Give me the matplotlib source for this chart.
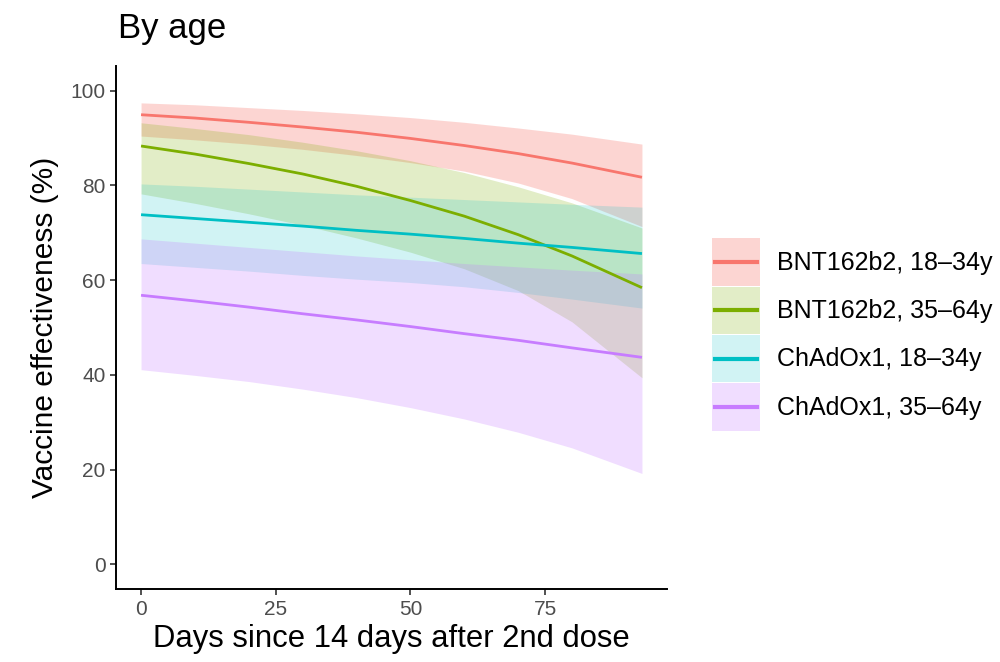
import matplotlib
matplotlib.use('Agg')
import matplotlib.pyplot as plt
from matplotlib.patches import Rectangle
from matplotlib.lines import Line2D

plt.rcParams['font.family'] = ['Liberation Sans', 'DejaVu Sans']

days = [0, 10, 20, 30, 40, 50, 60, 70, 80, 93]

bnt_1834 = [94.9, 94.2, 93.3, 92.3, 91.2, 89.9, 88.4, 86.7, 84.7, 81.7]
bnt_1834_hi = [97.4, 97.0, 96.4, 95.8, 95.1, 94.3, 93.3, 92.1, 90.8, 88.7]
bnt_1834_lo = [90.4, 89.6, 88.7, 87.6, 86.3, 84.8, 83.0, 80.5, 77.2, 71.3]

bnt_3564 = [88.3, 86.6, 84.6, 82.4, 79.8, 76.8, 73.5, 69.6, 65.1, 58.4]
bnt_3564_hi = [93.2, 92.0, 90.7, 89.1, 87.3, 85.2, 82.7, 79.7, 76.3, 71.0]
bnt_3564_lo = [78.2, 76.2, 74.0, 71.6, 68.9, 65.9, 62.4, 57.8, 51.2, 39.4]

chad_1834 = [73.8, 73.0, 72.2, 71.4, 70.5, 69.7, 68.8, 67.8, 66.9, 65.6]
chad_1834_hi = [80.3, 79.8, 79.2, 78.6, 78.0, 77.5, 77.0, 76.5, 76.0, 75.4]
chad_1834_lo = [63.5, 62.7, 61.9, 61.0, 60.2, 59.5, 58.6, 57.4, 56.0, 54.1]

chad_3564 = [56.8, 55.6, 54.3, 52.9, 51.6, 50.2, 48.7, 47.3, 45.7, 43.7]
chad_3564_hi = [68.7, 67.8, 66.9, 66.0, 65.1, 64.3, 63.5, 62.8, 62.1, 61.3]
chad_3564_lo = [41.1, 39.9, 38.6, 37.0, 35.2, 33.1, 30.7, 27.9, 24.6, 19.2]

labels = ['BNT162b2, 18\u201334y', 'BNT162b2, 35\u201364y',
          'ChAdOx1, 18\u201334y', 'ChAdOx1, 35\u201364y']
colors = ['#F8766D', '#7CAE00', '#00BFC4', '#C77CFF']
fill_alpha = [0.3, 0.22, 0.18, 0.26]
xticks = [0, 25, 50, 75]
yticks = [0, 20, 40, 60, 80, 100]

series = [
    (bnt_1834, bnt_1834_lo, bnt_1834_hi),
    (bnt_3564, bnt_3564_lo, bnt_3564_hi),
    (chad_1834, chad_1834_lo, chad_1834_hi),
    (chad_3564, chad_3564_lo, chad_3564_hi),
]


class LegendKey:
    def __init__(self, color, alpha):
        self.color = color
        self.alpha = alpha


class KeyHandler:
    # ggplot style key: filled box with the line across its middle
    def legend_artist(self, legend, orig_handle, fontsize, handlebox):
        x0, y0 = handlebox.xdescent, handlebox.ydescent
        w, h = handlebox.width, handlebox.height
        tr = handlebox.get_transform()
        rect = Rectangle([-x0, -y0], w, h, facecolor=orig_handle.color,
                         alpha=orig_handle.alpha, edgecolor='none', transform=tr)
        line = Line2D([-x0 + 0.06 * w, -x0 + 0.94 * w], [-y0 + h / 2, -y0 + h / 2],
                      color=orig_handle.color, linewidth=3, transform=tr)
        handlebox.add_artist(rect)
        handlebox.add_artist(line)
        return rect


fig = plt.figure(figsize=(10, 6.62), dpi=100)
ax = fig.add_axes([0.116, 0.1098, 0.551, 0.791])

# ribbons first, then lines on top (ggplot order)
for (mid, lo, hi), c, a in zip(series, colors, fill_alpha):
    ax.fill_between(days, lo, hi, color=c, alpha=a, linewidth=0)
for (mid, lo, hi), c in zip(series, colors):
    ax.plot(days, mid, color=c, linewidth=2.0, solid_capstyle='butt')

ax.set_xlim(-4.65, 97.65)
ax.set_ylim(-5.25, 105.25)
ax.set_xticks(xticks)
ax.set_yticks(yticks)
ax.spines.right.set_visible(False)
ax.spines.top.set_visible(False)
ax.spines['left'].set_linewidth(1.4)
ax.spines['bottom'].set_linewidth(1.4)
ax.tick_params(axis='both', direction='out', length=4.5, width=1.2,
               color='#333333', labelcolor='#4D4D4D', labelsize=15, pad=3)

ax.set_xlabel('Days since 14 days after 2nd dose', fontsize=22.3, labelpad=4)
ax.set_ylabel('Vaccine effectiveness (%)', fontsize=21.5, labelpad=8)
fig.text(0.118, 1 - 38 / 662, 'By age', fontsize=25, va='baseline', ha='left')

handles = [LegendKey(c, a) for c, a in zip(colors, fill_alpha)]
fig.legend(handles, labels, handler_map={LegendKey: KeyHandler()},
           loc='center left', bbox_to_anchor=(0.712, 1 - 334.5 / 662),
           frameon=False, fontsize=18, handlelength=1.92, handleheight=2.52,
           labelspacing=0.05, handletextpad=0.68, borderpad=0, borderaxespad=0)

plt.savefig('out.png', dpi=100)
